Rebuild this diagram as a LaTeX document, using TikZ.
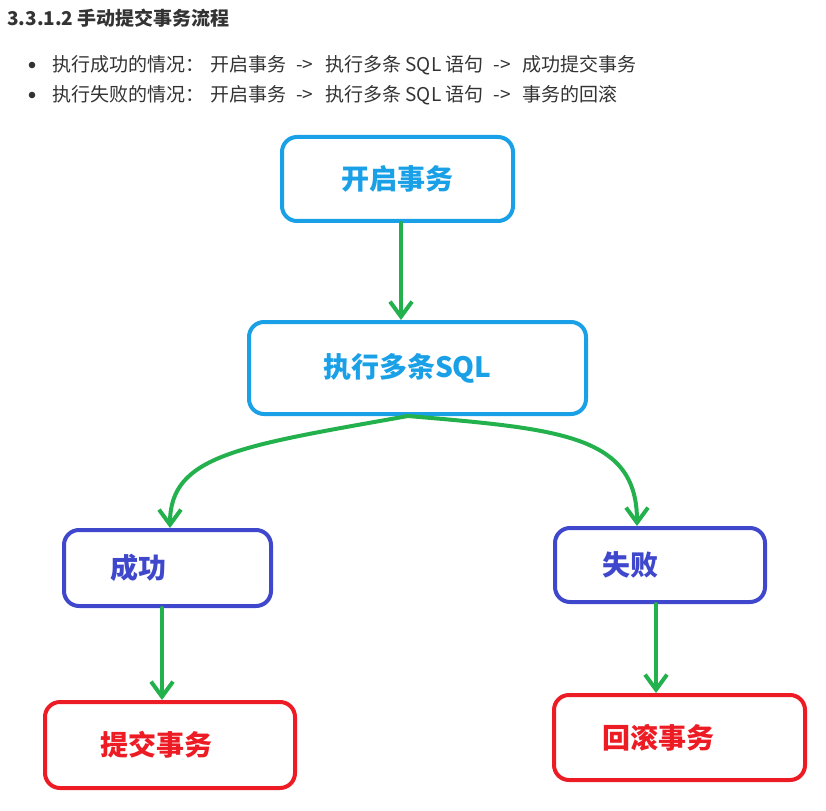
\documentclass[tikz,border=0pt]{standalone}
\usepackage{fontspec}
\setmainfont{Noto Sans CJK SC}
\usetikzlibrary{arrows.meta}
\definecolor{startblue}{HTML}{1AA0E6}
\definecolor{stepblue}{HTML}{3F48CC}
\definecolor{endred}{HTML}{ED1C24}
\definecolor{flowgreen}{HTML}{22B14C}
\definecolor{textgray}{HTML}{333333}
\newcommand{\nextstep}{\hspace{10pt}->\hspace{12pt}}
\begin{document}
\begin{tikzpicture}[x=1pt,y=-1pt,>={Straight Barb[length=15pt,width=22pt]},
  box/.style={draw, line width=4pt, rounded corners=15pt, inner ysep=0pt, align=left,
    font=\fontsize{28pt}{32pt}\selectfont\bfseries},
  flow/.style={->, draw=flowgreen, line width=4pt, line cap=round},
  line/.style={anchor=west, inner sep=0pt, text=textgray, font=\fontsize{19pt}{22pt}\selectfont}]
\useasboundingbox (0,0) rectangle (826,810);

\node[line, font=\fontsize{19pt}{22pt}\selectfont\bfseries] (title) at (7,18) {3.3.1.2 手动提交事务流程};
\fill[textgray] (32,65) circle (3.3pt);
\fill[textgray] (32,95) circle (3.3pt);
\node[line] (case1) at (52,65) {执行成功的情况：\hspace{6pt}开启事务\nextstep 执行多条 SQL 语句\nextstep 成功提交事务};
\node[line] (case2) at (52,95) {执行失败的情况：\hspace{6pt}开启事务\nextstep 执行多条 SQL 语句\nextstep 事务的回滚};

\node[box, draw=startblue, text=startblue, align=center, text width=115pt, inner xsep=58pt, minimum height=84pt] (kq) at (397.5,179) {开启事务};
\node[box, draw=startblue, text=startblue, text width=189pt, inner xsep=74pt, minimum height=92pt] (sql) at (417.5,368) {执行多条SQL};
\node[box, draw=stepblue, text=stepblue, text width=115pt, inner xsep=46pt, minimum height=76pt] (ok) at (167.5,568) {成功};
\node[box, draw=stepblue, text=stepblue, text width=116pt, inner xsep=47pt, minimum height=74pt] (fail) at (660,565) {失败};
\node[box, draw=endred, text=endred, text width=140pt, inner xsep=55pt, minimum height=86pt] (commit) at (170,745) {提交事务};
\node[box, draw=endred, text=endred, text width=155pt, inner xsep=48pt, minimum height=85pt] (rollback) at (679.5,737.5) {回滚事务};

\draw[flow] ([xshift=3.5pt]kq.south) -- ([xshift=3.5pt]kq.south |- sql.north);
\draw[flow] ([xshift=-9.5pt]sql.south) .. controls +(-168,30) and +(0,-73) .. ([xshift=2.5pt]ok.north);
\draw[flow] ([xshift=-9.5pt]sql.south) .. controls +(152,13) and +(0,-91) .. ([xshift=-23pt]fail.north);
\draw[flow] ([xshift=-5.5pt]ok.south) -- ([xshift=-5.5pt]ok.south |- commit.north);
\draw[flow] ([xshift=-4pt]fail.south) -- ([xshift=-4pt]fail.south |- rollback.north);
\end{tikzpicture}
\end{document}
